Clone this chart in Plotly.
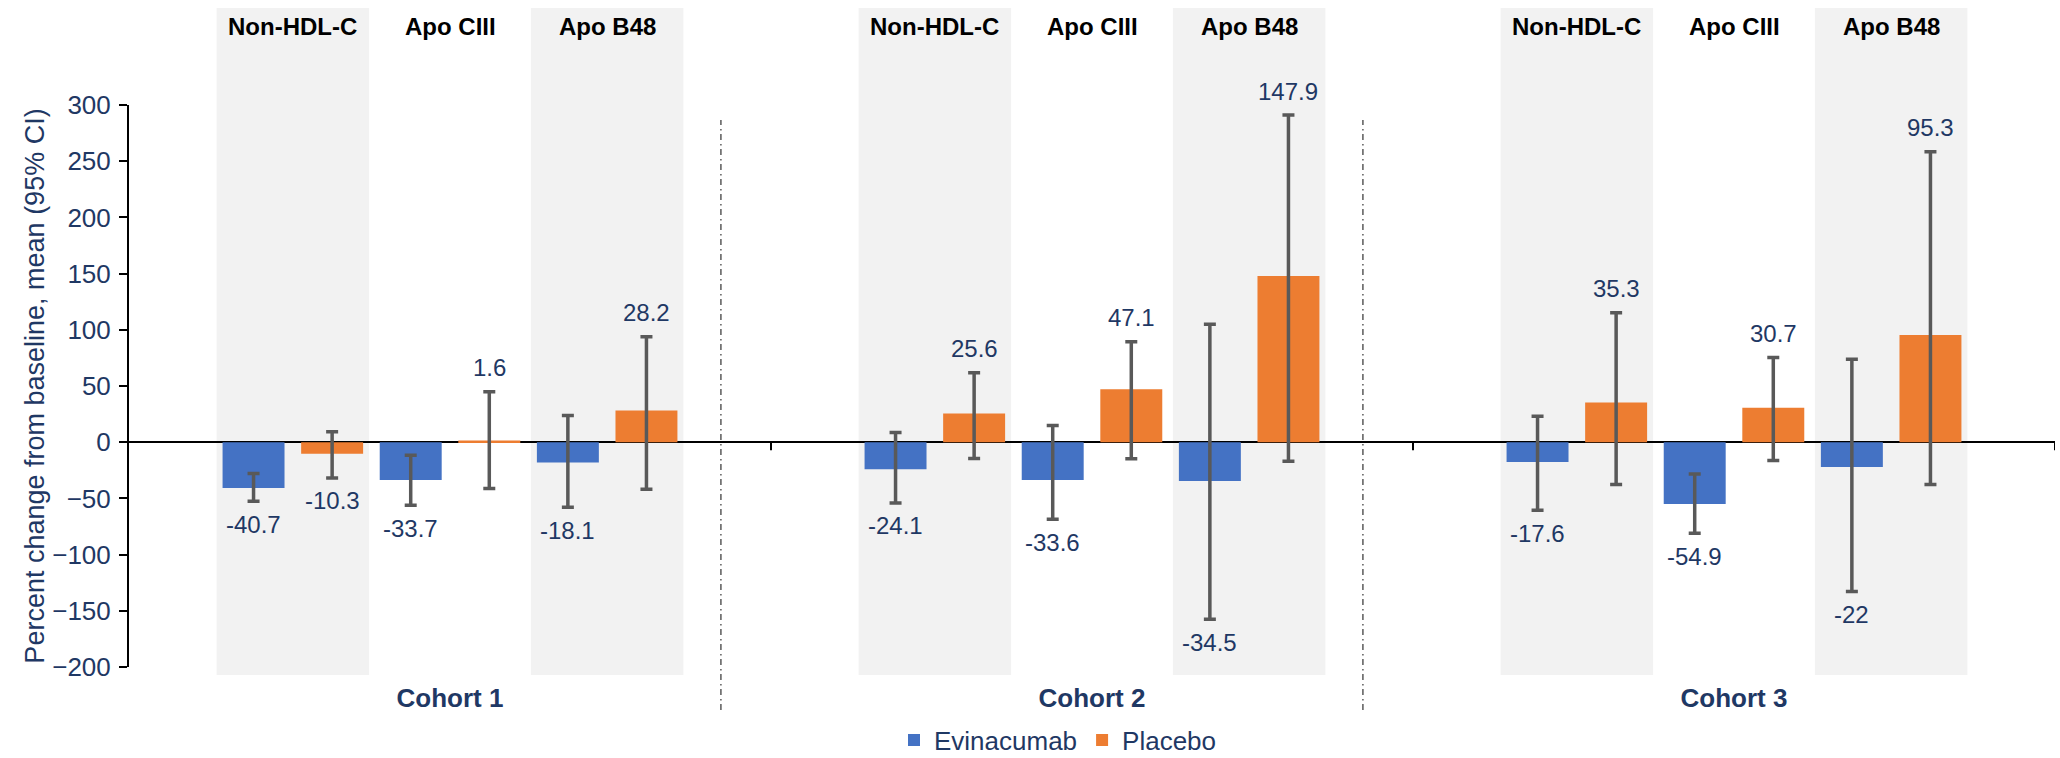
import plotly.graph_objects as go

# ---------------- data ----------------
cohorts = ["Cohort 1", "Cohort 2", "Cohort 3"]
markers = ["Non-HDL-C", "Apo CIII", "Apo B48"]
treatments = ["Evinacumab", "Placebo"]

# mean percent change from baseline (Cohort 1, 2, 3)
evi_nonhdl = [-40.7, -24.1, -17.6]
pla_nonhdl = [-10.3, 25.6, 35.3]
evi_apociii = [-33.7, -33.6, -54.9]
pla_apociii = [1.6, 47.1, 30.7]
evi_apob48 = [-18.1, -34.5, -22.0]
pla_apob48 = [28.2, 147.9, 95.3]

# 95% CI lower / upper bounds
evi_nonhdl_lo = [-52.5, -54.0, -60.5]
evi_nonhdl_hi = [-27.9, 8.6, 23.1]
pla_nonhdl_lo = [-31.8, -14.5, -37.7]
pla_nonhdl_hi = [9.2, 61.7, 115.1]
evi_apociii_lo = [-56.1, -68.5, -81.0]
evi_apociii_hi = [-11.6, 14.8, -28.2]
pla_apociii_lo = [-41.2, -14.8, -16.3]
pla_apociii_hi = [44.8, 89.3, 75.4]
evi_apob48_lo = [-57.9, -157.6, -132.9]
evi_apob48_hi = [23.7, 105.0, 73.9]
pla_apob48_lo = [-41.8, -16.9, -37.7]
pla_apob48_hi = [93.8, 291.1, 258.4]

y_ticks = [-200, -150, -100, -50, 0, 50, 100, 150, 200, 250, 300]
y_title = "Percent change from baseline, mean (95% CI)"

# ---------------- styling ----------------
FONT = "Liberation Sans, Arial, sans-serif"
NAVY = "#1F3864"
COLORS = {"Evinacumab": "#4472C4", "Placebo": "#ED7D31"}
BARGAP = 0.2656
BARGROUPGAP = 0.2116

series = [
    ("Non-HDL-C", "Evinacumab", evi_nonhdl, evi_nonhdl_lo, evi_nonhdl_hi),
    ("Non-HDL-C", "Placebo", pla_nonhdl, pla_nonhdl_lo, pla_nonhdl_hi),
    ("Apo CIII", "Evinacumab", evi_apociii, evi_apociii_lo, evi_apociii_hi),
    ("Apo CIII", "Placebo", pla_apociii, pla_apociii_lo, pla_apociii_hi),
    ("Apo B48", "Evinacumab", evi_apob48, evi_apob48_lo, evi_apob48_hi),
    ("Apo B48", "Placebo", pla_apob48, pla_apob48_lo, pla_apob48_hi),
]

n_groups = len(series)
slot = (1 - BARGAP) / n_groups
bar_w = slot * (1 - BARGROUPGAP)


def offset(j):
    return (j - (n_groups - 1) / 2) * slot


fig = go.Figure()
shown = set()
annotations = []
for j, (mk, tr, mean, lo, hi) in enumerate(series):
    fig.add_trace(go.Bar(
        x=cohorts, y=mean, name=tr, legendgroup=tr,
        showlegend=tr not in shown,
        marker=dict(color=COLORS[tr], line=dict(width=0)),
        error_y=dict(type="data", symmetric=False,
                     array=[h - m for h, m in zip(hi, mean)],
                     arrayminus=[m - l for m, l in zip(mean, lo)],
                     color="#595959", thickness=3.5, width=6),
    ))
    shown.add(tr)
    for c, (m, l, h) in enumerate(zip(mean, lo, hi)):
        pos = m >= 0
        annotations.append(dict(
            x=c + offset(j), y=h if pos else l, xref="x", yref="y",
            text=f"{m:g}", showarrow=False, yanchor="middle",
            yshift=24 if pos else -23,
            font=dict(family=FONT, size=24, color=NAVY)))

# layout geometry (paper coords) for decorations outside the plot area
W, H, L, R, T, B = 2060, 758, 129, 5, 105, 91
ph = H - T - B


def paper_y(px):
    return (H - B - px) / ph


shapes = []
band_half = slot / 2 + bar_w / 2 + 0.0093
for c in range(len(cohorts)):
    for mi, mk in enumerate(markers):
        cx = c + (offset(2 * mi) + offset(2 * mi + 1)) / 2
        if mi != 1:
            shapes.append(dict(type="rect", xref="x", yref="paper",
                               x0=cx - band_half, x1=cx + band_half,
                               y0=paper_y(675), y1=paper_y(8),
                               fillcolor="#F2F2F2", line=dict(width=0),
                               layer="below"))
        annotations.append(dict(x=cx, y=paper_y(26), xref="x", yref="paper",
                                text=f"<b>{mk}</b>", showarrow=False,
                                yanchor="middle",
                                font=dict(family=FONT, size=24, color="black")))

# dash-dot separators between cohorts
for b in (0.5, 1.5):
    shapes.append(dict(type="line", xref="x", yref="paper",
                       x0=b - 0.078, x1=b - 0.078,
                       y0=paper_y(710), y1=paper_y(120),
                       line=dict(color="#404040", width=1.3,
                                 dash="6px,3.5px,1.5px,4px")))

# category boundary tick marks on the zero line
for b in (0.5, 1.5, 2.5):
    shapes.append(dict(type="line", xref="x", yref="y", ysizemode="pixel",
                       yanchor=0, x0=b, x1=b, y0=0, y1=-8,
                       line=dict(color="black", width=2)))

fig.update_layout(
    width=W, height=H,
    margin=dict(l=L, r=R, t=T, b=B, autoexpand=False),
    paper_bgcolor="white", plot_bgcolor="rgba(0,0,0,0)",
    barmode="group", bargap=BARGAP, bargroupgap=BARGROUPGAP,
    font=dict(family=FONT, color=NAVY),
    shapes=shapes, annotations=annotations,
    legend=dict(orientation="h", xref="container", yref="container",
                x=(910 - 16) / W, xanchor="left",
                y=(H - 740) / H, yanchor="middle",
                font=dict(family=FONT, size=26, color=NAVY),
                itemwidth=30, bgcolor="rgba(0,0,0,0)"),
    xaxis=dict(type="category", range=[-0.5, 2.5], showline=False,
               ticks="", showgrid=False, zeroline=False, automargin=False,
               tickfont=dict(family=FONT, size=26, color=NAVY, weight="bold"),
               ticklabelstandoff=13),
    yaxis=dict(range=[-200, 300], tickvals=y_ticks, showline=True,
               linecolor="black", linewidth=2, ticks="outside", ticklen=8,
               tickwidth=2, tickcolor="black", showgrid=False,
               zeroline=True, zerolinecolor="black", zerolinewidth=2,
               automargin=False,
               tickfont=dict(family=FONT, size=26, color=NAVY),
               ticklabelstandoff=3,
               title=dict(text=y_title, standoff=0,
                          font=dict(family=FONT, size=27, color=NAVY))),
)

fig.write_html(
    "out.html",
    config={"displayModeBar": False},
    post_script="document.body.style.margin='0px';"
                "document.body.style.overflow='hidden';",
)
